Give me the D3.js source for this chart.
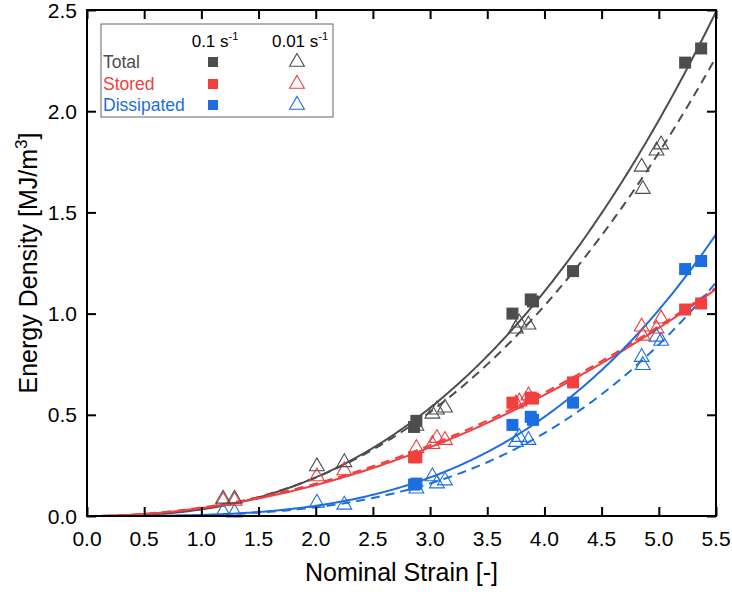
<!DOCTYPE html>
<html>
<head>
<meta charset="utf-8">
<script src="https://cdn.jsdelivr.net/npm/d3@7"></script>
<style>
    body { margin: 0; background: #fff; }
    text { font-family: "Liberation Sans", Arial, sans-serif; }
</style>
</head>
<body>
<div id="chart"></div>
<script>
// strain rates / series
const rateLabels = ["0.1", "0.01"];
const seriesNames = ["Total", "Stored", "Dissipated"];
const seriesColors = ["#4d4d4d", "#f03f3f", "#1c6ee0"];

// 0.1 s-1 samples (filled squares)
const fastStrain = [2.86, 2.88, 3.72, 3.88, 3.90, 4.25, 5.23, 5.37];
const fastTotal = [0.44, 0.47, 1.00, 1.07, 1.06, 1.21, 2.24, 2.31];
const fastStored = [0.29, 0.29, 0.56, 0.585, 0.58, 0.66, 1.02, 1.05];
const fastDissipated = [0.155, 0.16, 0.45, 0.49, 0.475, 0.56, 1.22, 1.26];

// 0.01 s-1 samples (open triangles)
const slowStrain = [1.19, 1.29, 2.01, 2.25, 2.88, 3.02, 3.06, 3.13, 3.75, 3.78, 3.86, 4.85, 4.86, 4.98, 5.02];
const slowTotal = [0.08, 0.08, 0.24, 0.26, 0.44, 0.50, 0.52, 0.53, 0.92, 0.95, 0.94, 1.72, 1.61, 1.80, 1.83];
const slowStored = [0.07, 0.07, 0.19, 0.22, 0.33, 0.35, 0.38, 0.37, 0.55, 0.56, 0.59, 0.93, 0.885, 0.92, 0.97];
const slowDissipated = [0.015, 0.012, 0.06, 0.05, 0.13, 0.19, 0.155, 0.17, 0.36, 0.385, 0.37, 0.78, 0.74, 0.88, 0.86];

// power-law fits  E = a * strain^b  (Total, Stored, Dissipated)
const fastFitA = [0.0328, 0.039, 0.00519];
const fastFitB = [2.54, 1.97, 3.28];
const slowFitA = [0.0348, 0.042, 0.00453];
const slowFitB = [2.45, 1.93, 3.25];

const xTicks = d3.range(0, 5.51, 0.5);
const yTicks = [0, 0.5, 1.0, 1.5, 2.0, 2.5];

const width = 732, height = 592;
const margin = {top: 10, right: 16, bottom: 76, left: 87};
const innerW = width - margin.left - margin.right;
const innerH = height - margin.top - margin.bottom;

const xScale = d3.scaleLinear().domain([0, 5.5]).range([0, innerW]);
const yScale = d3.scaleLinear().domain([0, 2.5]).range([innerH, 0]);

const svg = d3.select("#chart")
    .append("svg")
    .attr("width", width)
    .attr("height", height);

const g = svg.append("g")
    .attr("transform", "translate(" + margin.left + "," + margin.top + ")");

svg.append("defs")
    .append("clipPath")
    .attr("id", "plotclip")
    .append("rect")
    .attr("width", innerW)
    .attr("height", innerH);

// fit curves
const curveX = d3.range(0, 5.5001, 0.02);
const line = d3.line()
    .x(d => xScale(d[0]))
    .y(d => yScale(d[1]));

const curves = g.append("g").attr("clip-path", "url(#plotclip)");

seriesNames.forEach((name, i) => {
    curves.append("path")
        .attr("fill", "none")
        .attr("stroke", seriesColors[i])
        .attr("stroke-width", 2)
        .attr("stroke-dasharray", "9,6")
        .attr("d", line(curveX.map(x => [x, slowFitA[i] * Math.pow(x, slowFitB[i])])));
    curves.append("path")
        .attr("fill", "none")
        .attr("stroke", seriesColors[i])
        .attr("stroke-width", 2)
        .attr("d", line(curveX.map(x => [x, fastFitA[i] * Math.pow(x, fastFitB[i])])));
});

// markers
const fastData = [fastTotal, fastStored, fastDissipated];
const slowData = [slowTotal, slowStored, slowDissipated];
const tri = d3.symbol().type(d3.symbolTriangle).size(95);
const sq = 12;

const marks = g.append("g");

[2, 1, 0].forEach(i => {
    marks.append("g")
        .selectAll("path")
        .data(slowStrain.map((s, k) => [s, slowData[i][k]]))
        .enter()
        .append("path")
        .attr("d", tri)
        .attr("transform", d => "translate(" + xScale(d[0]) + "," + (yScale(d[1]) - 1) + ")")
        .attr("fill", "none")
        .attr("stroke", seriesColors[i])
        .attr("stroke-width", 1.1);

    marks.append("g")
        .selectAll("rect")
        .data(fastStrain.map((s, k) => [s, fastData[i][k]]))
        .enter()
        .append("rect")
        .attr("x", d => xScale(d[0]) - sq / 2)
        .attr("y", d => yScale(d[1]) - sq / 2)
        .attr("width", sq)
        .attr("height", sq)
        .attr("fill", seriesColors[i]);
});

// axes, ticks pointing inward, mirrored box
g.append("g")
    .attr("transform", "translate(0," + innerH + ")")
    .call(d3.axisTop(xScale).tickValues(xTicks).tickSize(9).tickFormat(""))
    .call(a => a.select(".domain").remove());
g.append("g")
    .call(d3.axisBottom(xScale).tickValues(xTicks).tickSize(9).tickFormat(""))
    .call(a => a.select(".domain").remove());
g.append("g")
    .call(d3.axisRight(yScale).tickValues(yTicks).tickSize(9).tickFormat(""))
    .call(a => a.select(".domain").remove());
g.append("g")
    .attr("transform", "translate(" + innerW + ",0)")
    .call(d3.axisLeft(yScale).tickValues(yTicks).tickSize(9).tickFormat(""))
    .call(a => a.select(".domain").remove());

g.selectAll(".tick line")
    .attr("stroke", "#000")
    .attr("stroke-width", 2);

g.append("rect")
    .attr("width", innerW)
    .attr("height", innerH)
    .attr("fill", "none")
    .attr("stroke", "#000")
    .attr("stroke-width", 2);

// tick labels
g.append("g")
    .selectAll("text")
    .data(xTicks)
    .enter()
    .append("text")
    .attr("x", d => xScale(d))
    .attr("y", innerH + 30)
    .attr("text-anchor", "middle")
    .attr("font-size", "21px")
    .text(d => d3.format(".1f")(d));

g.append("g")
    .selectAll("text")
    .data(yTicks)
    .enter()
    .append("text")
    .attr("x", -10)
    .attr("y", d => yScale(d))
    .attr("dy", "0.36em")
    .attr("text-anchor", "end")
    .attr("font-size", "21px")
    .text(d => d3.format(".1f")(d));

// axis titles
svg.append("text")
    .attr("x", margin.left + innerW / 2)
    .attr("y", 581)
    .attr("text-anchor", "middle")
    .attr("font-size", "25px")
    .text("Nominal Strain [-]");

const yTitle = svg.append("text")
    .attr("transform", "translate(37," + (margin.top + innerH / 2) + ") rotate(-90)")
    .attr("text-anchor", "middle")
    .attr("font-size", "25px");
yTitle.append("tspan").text("Energy Density [MJ/m");
yTitle.append("tspan").attr("dy", "-10").attr("font-size", "17px").text("3");
yTitle.append("tspan").attr("dy", "10").text("]");

// legend
const legend = svg.append("g");
legend.append("rect")
    .attr("x", 101)
    .attr("y", 24)
    .attr("width", 232)
    .attr("height", 93)
    .attr("fill", "#fff")
    .attr("stroke", "#666")
    .attr("stroke-width", 1);

const colX = [215, 300];
rateLabels.forEach((r, j) => {
    const t = legend.append("text")
        .attr("x", colX[j])
        .attr("y", 47)
        .attr("text-anchor", "middle")
        .attr("font-size", "17px");
    t.append("tspan").text(r + " s");
    t.append("tspan").attr("dy", "-7").attr("font-size", "11px").text("-1");
});

const rowY = [62, 84, 105];
seriesNames.forEach((name, i) => {
    legend.append("text")
        .attr("x", 103)
        .attr("y", rowY[i])
        .attr("dy", "0.36em")
        .attr("font-size", "17.5px")
        .attr("fill", seriesColors[i])
        .text(name);
    legend.append("rect")
        .attr("x", 213 - 5)
        .attr("y", rowY[i] - 5)
        .attr("width", 10)
        .attr("height", 10)
        .attr("fill", seriesColors[i]);
    legend.append("path")
        .attr("d", tri)
        .attr("transform", "translate(297," + rowY[i] + ")")
        .attr("fill", "none")
        .attr("stroke", seriesColors[i])
        .attr("stroke-width", 1.1);
});
</script>
</body>
</html>
